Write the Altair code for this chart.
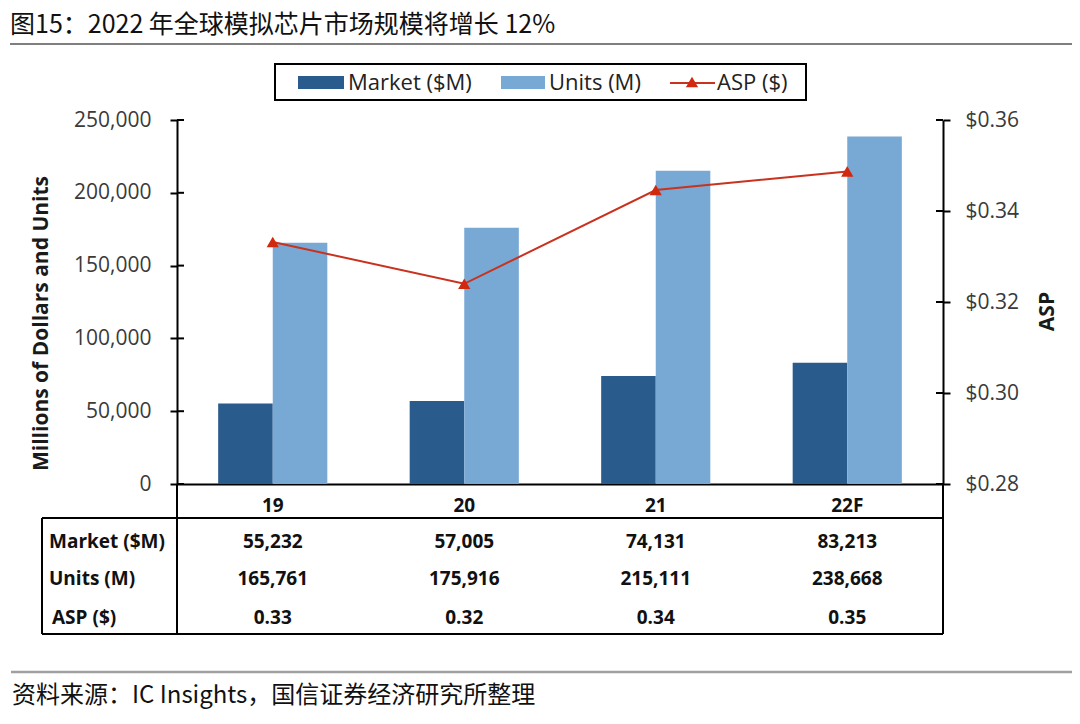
import altair as alt
import pandas as pd

# ---------------- data ----------------
categories = ["19", "20", "21", "22F"]
market = [55232, 57005, 74131, 83213]
units = [165761, 175916, 215111, 238668]
asp = [0.3332, 0.3240, 0.3446, 0.3487]
series_names = ["Market ($M)", "Units (M)"]
series_colors = ["#2A5B8D", "#78A8D4"]
left_ticks = [0, 50000, 100000, 150000, 200000, 250000]
right_ticks = [0.28, 0.30, 0.32, 0.34, 0.36]
row_labels = ["Market ($M)", "Units (M)", "ASP ($)"]
legend_labels = ["Market ($M)", "Units (M)", "ASP ($)"]
title_text = "图15：2022 年全球模拟芯片市场规模将增长 12%"
source_text = "资料来源：IC Insights，国信证券经济研究所整理"
left_title = "Millions of Dollars and Units"
right_title = "ASP"

# ---------------- tables ----------------
bars_df = pd.DataFrame(
    [{"cat": c, "series": series_names[0], "value": m} for c, m in zip(categories, market)]
    + [{"cat": c, "series": series_names[1], "value": u} for c, u in zip(categories, units)]
)
tab_df = pd.DataFrame({"cat": categories, "market": market, "units": units, "asp": asp})
lt_df = pd.DataFrame({"t": left_ticks})
rt_df = pd.DataFrame({"t": right_ticks})
one = alt.Data(values=[{}])

W, H = 766, 364
LAT = "Open Sans"
CJK = "Noto Sans CJK SC"
RED_LINE = "#C9321E"
RED_PT = "#D2280E"
LABEL_C = "#3A3A3A"

x_scale = alt.Scale(domain=categories, paddingInner=0.43, paddingOuter=0.215)
x_axis = alt.Axis(labels=False, ticks=False, domain=True, domainColor="black",
                  domainWidth=2, title=None, grid=False)


def xenc():
    return alt.X("cat:N", sort=categories, scale=x_scale, axis=x_axis)


yl_scale = alt.Scale(domain=[0, 250000], nice=False, zero=True)
yl_axis = alt.Axis(values=left_ticks, format=",.0f", labelFont=LAT, labelFontSize=21,
                   labelColor=LABEL_C, labelPadding=19, tickSize=7, tickWidth=2,
                   tickColor="black", domainColor="black", domainWidth=2, grid=False,
                   title=left_title, titleFont=LAT, titleFontSize=21, titleFontWeight="bold",
                   titleColor="#1a1a1a", titleX=-136, titleY=203, titleAngle=270,
                   titleBaseline="middle", titleAlign="center", orient="left")
yr_scale = alt.Scale(domain=[0.28, 0.36], nice=False, zero=False)
yr_axis = alt.Axis(values=right_ticks, format="$.2f", labelFont=LAT, labelFontSize=21,
                   labelColor=LABEL_C, labelPadding=15, tickSize=7, tickWidth=2,
                   tickColor="black", domainColor="black", domainWidth=2, grid=False,
                   title=right_title, titleFont=LAT, titleFontSize=21, titleFontWeight="bold",
                   titleColor="#1a1a1a", titleX=104, titleY=191, titleAngle=270,
                   titleBaseline="middle", titleAlign="center", orient="right")

# ---------------- left group: bars ----------------
bars = alt.Chart(bars_df).mark_bar().encode(
    x=xenc(),
    xOffset=alt.XOffset("series:N", sort=series_names,
                        scale=alt.Scale(paddingInner=0, paddingOuter=0)),
    y=alt.Y("value:Q", scale=yl_scale, axis=yl_axis),
    color=alt.Color("series:N", scale=alt.Scale(domain=series_names, range=series_colors),
                    legend=None),
)
lt_inner = alt.Chart(lt_df).mark_rule(color="black", strokeWidth=2).encode(
    y=alt.Y("t:Q", scale=yl_scale, axis=yl_axis),
    x=alt.value(0), x2=alt.value(7),
)
left_group = alt.layer(bars, lt_inner)

# ---------------- right group: ASP line ----------------
line = alt.Chart(tab_df).mark_line(color=RED_LINE, strokeWidth=2).encode(
    x=xenc(), y=alt.Y("asp:Q", scale=yr_scale, axis=yr_axis),
)
pts = alt.Chart(tab_df).mark_point(shape="triangle-up", filled=True, size=150,
                                    color=RED_PT, opacity=1).encode(
    x=xenc(), y=alt.Y("asp:Q", scale=yr_scale, axis=yr_axis),
)
rt_inner = alt.Chart(rt_df).mark_rule(color="black", strokeWidth=2).encode(
    y=alt.Y("t:Q", scale=yr_scale, axis=yr_axis),
    x=alt.value(W - 7), x2=alt.value(W),
)
right_group = alt.layer(line, pts, rt_inner)

# ---------------- table under the plot ----------------
tfont = dict(font=LAT, fontSize=19, fontWeight="bold", color="#111111", baseline="middle")
cat_txt = alt.Chart(tab_df).mark_text(**tfont).encode(
    x=xenc(), y=alt.value(386), text="cat:N")
mk_txt = alt.Chart(tab_df).mark_text(**tfont).encode(
    x=xenc(), y=alt.value(422), text=alt.Text("market:Q", format=",.0f"))
un_txt = alt.Chart(tab_df).mark_text(**tfont).encode(
    x=xenc(), y=alt.value(459), text=alt.Text("units:Q", format=",.0f"))
as_txt = alt.Chart(tab_df).mark_text(**tfont).encode(
    x=xenc(), y=alt.value(498), text=alt.Text("asp:Q", format=".2f"))

row_lbls = [
    alt.Chart(one).mark_text(text=row_labels[0], align="left", **tfont).encode(
        x=alt.value(-128), y=alt.value(422)),
    alt.Chart(one).mark_text(text=row_labels[1], align="left", **tfont).encode(
        x=alt.value(-128), y=alt.value(459)),
    alt.Chart(one).mark_text(text=row_labels[2], align="left", **tfont).encode(
        x=alt.value(-125), y=alt.value(498)),
]


def hrule(x1, x2, y, color="black", w=2):
    return alt.Chart(one).mark_rule(color=color, strokeWidth=w).encode(
        x=alt.value(x1), x2=alt.value(x2), y=alt.value(y))


def vrule(x, y1, y2, color="black", w=2):
    return alt.Chart(one).mark_rule(color=color, strokeWidth=w).encode(
        x=alt.value(x), y=alt.value(y1), y2=alt.value(y2))


table_lines = [
    hrule(-135, W, 398), hrule(-135, W, 514),
    vrule(-135, 398, 514), vrule(0, H, 514), vrule(W, H, 514),
]

# ---------------- legend ----------------
legend_box = alt.Chart(one).mark_rect(fill="white", stroke="black", strokeWidth=2).encode(
    x=alt.value(98), x2=alt.value(629), y=alt.value(-56), y2=alt.value(-20))
sw1 = alt.Chart(one).mark_rect(color=series_colors[0]).encode(
    x=alt.value(121), x2=alt.value(167), y=alt.value(-44), y2=alt.value(-31))
sw2 = alt.Chart(one).mark_rect(color=series_colors[1]).encode(
    x=alt.value(324), x2=alt.value(368), y=alt.value(-44), y2=alt.value(-31))
sw3 = alt.Chart(one).mark_rule(color=RED_LINE, strokeWidth=2).encode(
    x=alt.value(493), x2=alt.value(538), y=alt.value(-37))
sw3p = alt.Chart(one).mark_point(shape="triangle-up", filled=True, size=150,
                                 color=RED_PT, opacity=1).encode(
    x=alt.value(515), y=alt.value(-38))
lfont = dict(font=LAT, fontSize=22, color="#222222", baseline="middle", align="left")
lg_txt = [
    alt.Chart(one).mark_text(text=legend_labels[0], **lfont).encode(x=alt.value(171), y=alt.value(-37)),
    alt.Chart(one).mark_text(text=legend_labels[1], **lfont).encode(x=alt.value(372), y=alt.value(-37)),
    alt.Chart(one).mark_text(text=legend_labels[2], **lfont).encode(x=alt.value(540), y=alt.value(-37)),
]

# ---------------- page title & source ----------------
title = alt.Chart(one).mark_text(text=title_text, font=CJK, fontSize=25, fontWeight="normal",
                                 color="#111111", align="left", baseline="middle").encode(
    x=alt.value(-167), y=alt.value(-95))
top_line = hrule(-167, 898, -76, color="#555555", w=1.5)
bot_line = hrule(-166, 899, 552, color="#A0A0A0", w=2.5)
source = alt.Chart(one).mark_text(text=source_text, font=CJK, fontSize=24,
                                  color="#111111", align="left", baseline="middle").encode(
    x=alt.value(-165), y=alt.value(576))

deco = alt.layer(
    cat_txt, mk_txt, un_txt, as_txt, *row_lbls, *table_lines,
    legend_box, sw1, sw2, sw3, sw3p, *lg_txt,
    title, top_line, bot_line, source,
)

chart = alt.layer(left_group, right_group, deco).resolve_scale(
    y="independent"
).properties(
    width=W, height=H,
    padding={"left": 169, "top": 112, "right": 129, "bottom": 232},
    autosize=alt.AutoSizeParams(type="none"),
    background="white",
).configure_view(stroke=None)

chart.save("out.html", embed_options={"renderer": "svg", "actions": False})
